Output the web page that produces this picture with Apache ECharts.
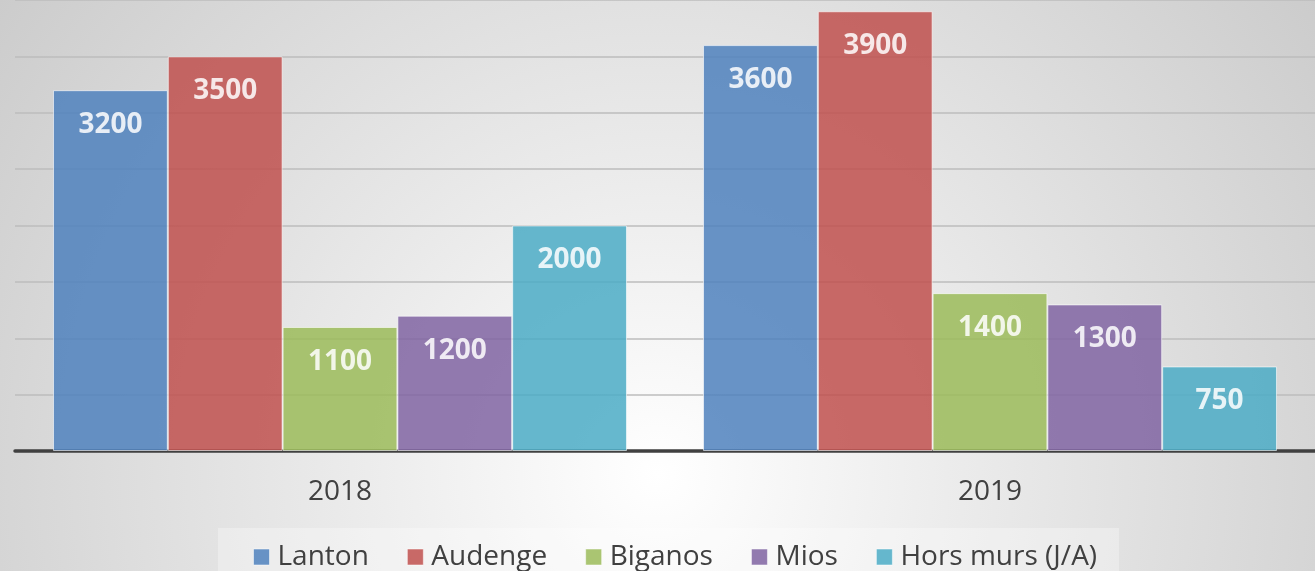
<!DOCTYPE html>
<html>
<head>
  <meta charset="utf-8">
  <title>Bar chart</title>
  <script src="https://cdn.jsdelivr.net/npm/echarts@6/dist/echarts.min.js"></script>
  <style>
    html, body { margin: 0; padding: 0; }
  </style>
</head>
<body>
  <div id="main" style="width: 1315px; height: 571px;"></div>

  <script>
    const years = ['2018', '2019'];
    const names = ['Lanton', 'Audenge', 'Biganos', 'Mios', 'Hors murs (J/A)'];
    const lanton = [3200, 3600];
    const audenge = [3500, 3900];
    const biganos = [1100, 1400];
    const mios = [1200, 1300];
    const horsMurs = [2000, 750];
    const colors = ['#4F81BD', '#C0504D', '#9BBB59', '#8064A2', '#4BACC6'];

    const values = [lanton, audenge, biganos, mios, horsMurs];

    const chart = echarts.init(document.getElementById('main'));
    const option = {
      backgroundColor: new echarts.graphic.RadialGradient(0.5, 0.83, 1.45, [
        { offset: 0, color: '#ffffff' },
        { offset: 0.35, color: '#ececec' },
        { offset: 1, color: '#cbcbcb' }
      ]),
      color: colors,
      legend: {
        data: names,
        left: 218,
        top: 528,
        padding: [15, 22, 12, 35],
        backgroundColor: 'rgba(255,255,255,0.3)',
        itemWidth: 16,
        itemHeight: 16,
        itemGap: 38,
        icon: 'rect',
        itemStyle: { borderColor: 'rgba(255,255,255,0.6)', borderWidth: 1 },
        textStyle: { fontFamily: 'Open Sans', fontSize: 28, color: '#404040', padding: [0, 0, 0, 3] }
      },
      grid: { left: 15, right: -4, top: -2, bottom: 120, containLabel: false },
      xAxis: {
        type: 'category',
        data: years,
        axisLine: { lineStyle: { color: '#404040', width: 3.5 } },
        axisTick: { show: false },
        axisLabel: { fontFamily: 'Open Sans', fontSize: 28, color: '#404040', margin: 27 }
      },
      yAxis: {
        type: 'value',
        min: 0,
        max: 4000,
        interval: 500,
        axisLabel: { show: false },
        axisLine: { show: false },
        axisTick: { show: false },
        splitLine: { lineStyle: { color: '#bdbdbd', width: 1.5 } }
      },
      series: names.map((n, i) => ({
        name: n,
        type: 'bar',
        data: values[i],
        barGap: '0%',
        barCategoryGap: '11.7%',
        itemStyle: { opacity: 0.85, borderColor: 'rgba(255,255,255,0.7)', borderWidth: 1 },
        label: {
          show: true,
          position: 'insideTop',
          distance: 21,
          color: '#ffffff',
          fontFamily: 'Open Sans',
          fontWeight: 'bold',
          fontSize: 28
        }
      }))
    };
    chart.setOption(option);
  </script>
</body>
</html>
